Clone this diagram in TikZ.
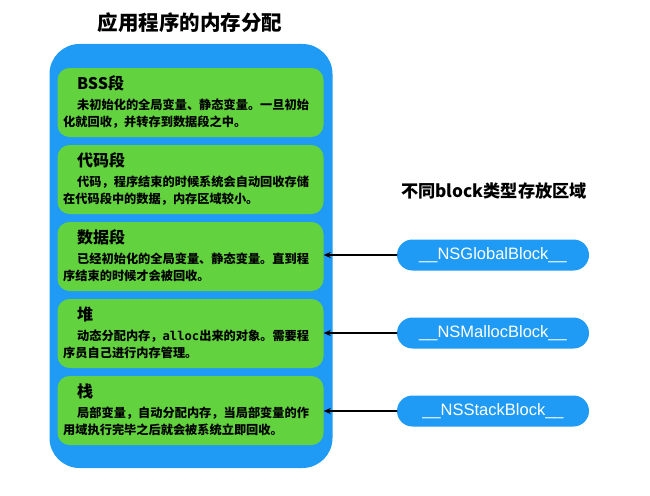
\documentclass[tikz,border=0pt]{standalone}
\usepackage{fontspec}
\setmainfont{Noto Sans CJK SC}
\newfontfamily\pillfont{Liberation Sans}
\newfontfamily\codefont{DejaVu Sans Mono}
\usetikzlibrary{arrows.meta}
\definecolor{memblue}{RGB}{31,155,245}
\definecolor{seggreen}{RGB}{98,211,62}
\newcommand{\code}[1]{{\codefont\bfseries #1}}
\begin{document}
\begin{tikzpicture}[x=1pt,y=-1pt,line join=round,line cap=round,
	mem/.style={fill=memblue,rounded corners=30pt,minimum width=283pt,minimum height=424pt,inner sep=0pt},
	seg/.style={fill=seggreen,rounded corners=12pt,minimum width=266pt,minimum height=69pt,inner sep=0pt},
	head/.style={anchor=west,inner sep=0pt,font=\fontsize{16}{18}\selectfont\bfseries},
	body/.style={anchor=west,inner sep=0pt,font=\fontsize{12.2}{14}\selectfont\bfseries},
	pill/.style={fill=memblue,rounded corners=15.5pt,minimum width=192pt,minimum height=31pt,inner sep=0pt,text=white,font=\pillfont\fontsize{16.5}{18}\selectfont},
	arr/.style={-{Stealth[length=7pt,width=6pt]},line width=1.5pt}]
	\useasboundingbox (0,0) rectangle (650,495);
	\node[font=\fontsize{20.5}{22}\selectfont\bfseries] (title) at (190,23) {应用程序的内存分配};
	\node[mem] (mem) at (191,256) {};
	\foreach \n/\t/\h/\a/\b in
	{bss/68/BSS段/未初始化的全局变量、静态变量。一旦初始/化就回收，并转存到数据段之中。,
	 code/145/代码段/代码，程序结束的时候系统会自动回收存储/在代码段中的数据，内存区域较小。,
	 data/222/数据段/已经初始化的全局变量、静态变量。直到程/序结束的时候才会被回收。,
	 heap/299/堆/动态分配内存，\code{alloc}出来的对象。需要程/序员自己进行内存管理。,
	 stack/376/栈/局部变量，自动分配内存，当局部变量的作/用域执行完毕之后就会被系统立即回收。}
	{
	\node[seg] (\n) at (190.5,\t+34.5) {};
	\node[head] (\n h) at (77,\t+15) {\h};
	\node[body] (\n a) at (77,\t+37) {\a};
	\node[body] (\n b) at (63,\t+54) {\b};
	}
	\node[font=\fontsize{17.2}{19}\selectfont\bfseries] (kinds) at (494,191) {不同block类型存放区域};
	\node[pill] (global) at (493,255) {\_\_NSGlobalBlock\_\_};
	\node[pill] (malloc) at (493,333) {\_\_NSMallocBlock\_\_};
	\node[pill] (stackblk) at (493,411) {\_\_NSStackBlock\_\_};
	\draw[arr] (global.west) -- (global.west -| data.east);
	\draw[arr] (malloc.west) -- (malloc.west -| heap.east);
	\draw[arr] (stackblk.west) -- (stackblk.west -| stack.east);
\end{tikzpicture}
\end{document}
